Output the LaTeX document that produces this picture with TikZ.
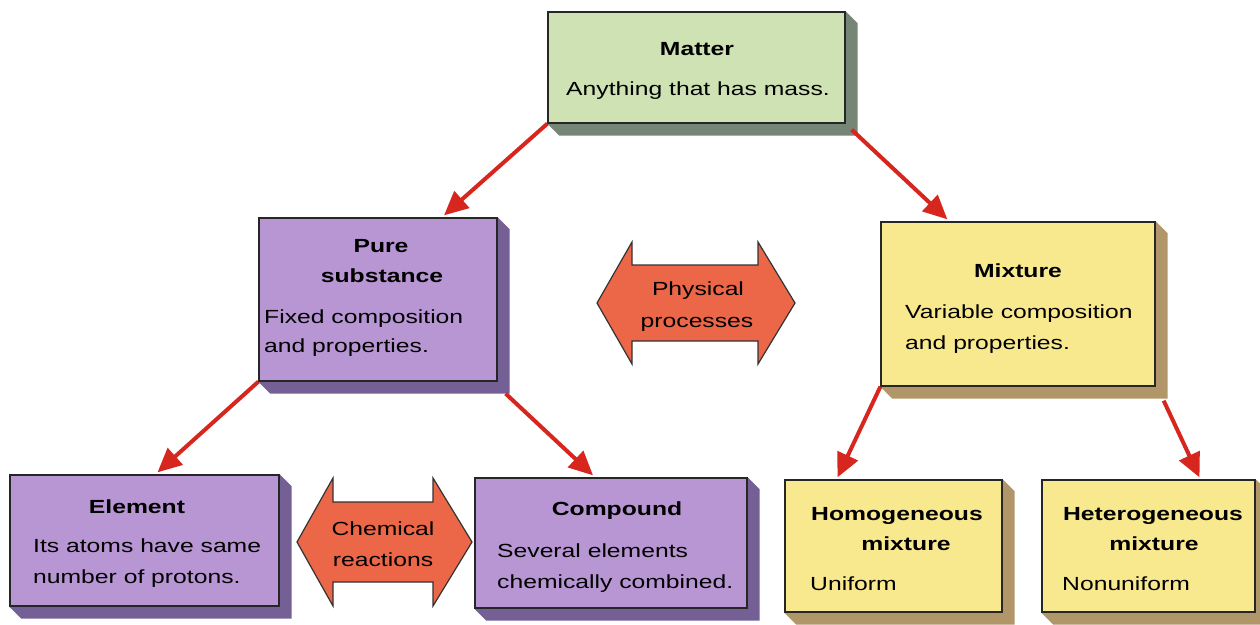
\documentclass[tikz,border=0pt]{standalone}
\usepackage{fontspec}
\setmainfont{Liberation Sans}[FakeStretch=1.3]
\usetikzlibrary{arrows.meta,calc,backgrounds}
\definecolor{greenface}{RGB}{206,226,180}
\definecolor{greenshadow}{RGB}{118,134,118}
\definecolor{purpleface}{RGB}{184,150,212}
\definecolor{purpleshadow}{RGB}{116,96,148}
\definecolor{yellowface}{RGB}{249,233,142}
\definecolor{yellowshadow}{RGB}{176,150,104}
\definecolor{orangefill}{RGB}{236,102,72}
\definecolor{linkred}{RGB}{214,38,30}
\newcommand{\boxshadow}[2]{%
  \fill[#2] (#1.north east) -- ++(12,12) -- ($(#1.south east)+(12,12)$)
    -- ($(#1.south west)+(12,12)$) -- (#1.south west) -- cycle;}
\begin{document}
\begin{tikzpicture}[x=1pt,y=-1pt,
  box/.style={draw=black!85, line width=1.3pt, inner sep=0pt, rectangle},
  txt/.style={inner sep=0pt, anchor=base, font=\fontsize{19}{23}\selectfont},
  ttl/.style={txt, font=\fontsize{19}{23}\selectfont\bfseries},
  lft/.style={txt, anchor=base west},
  link/.style={draw=linkred, line width=4pt, -{Triangle[length=24pt,width=22pt]}},
  dblarrow/.style={fill=orangefill, draw=black!80, line width=1.2pt, line join=miter}]
\clip (0,0) rectangle (1260,624);

% boxes
\node[box, fill=greenface, minimum width=297pt, minimum height=111pt] (matter) at (696.5,67.5) {};
\node[box, fill=purpleface, minimum width=238pt, minimum height=163pt] (pure) at (378,299.5) {};
\node[box, fill=yellowface, minimum width=274pt, minimum height=164pt] (mixture) at (1018,304) {};
\node[box, fill=purpleface, minimum width=269pt, minimum height=131pt] (element) at (144.5,540.5) {};
\node[box, fill=purpleface, minimum width=272pt, minimum height=130pt] (compound) at (611,543) {};
\node[box, fill=yellowface, minimum width=217pt, minimum height=132pt] (homog) at (893.5,546) {};
\node[box, fill=yellowface, minimum width=213pt, minimum height=132pt] (heterog) at (1148.5,546) {};

\begin{scope}[on background layer]
  \clip (0,0) rectangle (1260,624);
  \fill[white] (0,0) rectangle (1260,624);
  \boxshadow{matter}{greenshadow}
  \boxshadow{pure}{purpleshadow}
  \boxshadow{mixture}{yellowshadow}
  \boxshadow{element}{purpleshadow}
  \boxshadow{compound}{purpleshadow}
  \boxshadow{homog}{yellowshadow}
  \boxshadow{heterog}{yellowshadow}
\end{scope}

% texts
\node[ttl] (matterT) at (697,55) {Matter};
\node[txt] (matterB) at (698,95) {Anything that has mass.};

\node[ttl] (pureT1) at (381,252) {Pure};
\node[ttl] (pureT2) at (382,282) {substance};
\node[lft] (pureB1) at (264,323) {Fixed composition};
\node[lft] (pureB2) at (264,352) {and properties.};

\node[ttl] (mixT) at (1018,277) {Mixture};
\node[lft] (mixB1) at (905,318) {Variable composition};
\node[lft] (mixB2) at (905,349) {and properties.};

\node[ttl] (elemT) at (137,513) {Element};
\node[lft] (elemB1) at (33,552) {Its atoms have same};
\node[lft] (elemB2) at (33,583) {number of protons.};

\node[ttl] (compT) at (617,515) {Compound};
\node[lft] (compB1) at (497,557) {Several elements};
\node[lft] (compB2) at (497,588) {chemically combined.};

\node[ttl] (homT1) at (897,520) {Homogeneous};
\node[ttl] (homT2) at (906,550) {mixture};
\node[lft] (homB) at (810,590) {Uniform};

\node[ttl] (hetT1) at (1153,520) {Heterogeneous};
\node[ttl] (hetT2) at (1154,550) {mixture};
\node[lft] (hetB) at (1062,590) {Nonuniform};

% double arrows
\coordinate (phys) at (696,303);
\path[dblarrow] ($(phys)+(-99,0)$) -- ($(phys)+(-64,-61)$) -- ($(phys)+(-64,-38)$)
  -- ($(phys)+(62,-38)$) -- ($(phys)+(62,-61)$) -- ($(phys)+(99,0)$)
  -- ($(phys)+(62,61)$) -- ($(phys)+(62,38)$) -- ($(phys)+(-64,38)$)
  -- ($(phys)+(-64,61)$) -- cycle;
\node[txt] (physT1) at (698,295) {Physical};
\node[txt] (physT2) at (697,327) {processes};

\coordinate (chem) at (384.5,542);
\path[dblarrow] ($(chem)+(-87.5,0)$) -- ($(chem)+(-51.5,-64)$) -- ($(chem)+(-51.5,-40)$)
  -- ($(chem)+(48.5,-40)$) -- ($(chem)+(48.5,-64)$) -- ($(chem)+(87.5,0)$)
  -- ($(chem)+(48.5,64)$) -- ($(chem)+(48.5,40)$) -- ($(chem)+(-51.5,40)$)
  -- ($(chem)+(-51.5,64)$) -- cycle;
\node[txt] (chemT1) at (383,535) {Chemical};
\node[txt] (chemT2) at (383,566) {reactions};

% links
\draw[link] (matter.south west) -- ([xshift=66pt,yshift=2pt]pure.north);
\draw[link] ([xshift=6pt,yshift=-6pt]matter.south east) -- ([xshift=67pt,yshift=2pt]mixture.north west);
\draw[link] (pure.south west) -- ([xshift=13pt,yshift=2pt]element.north);
\draw[link] ([xshift=8pt,yshift=-12pt]pure.south east) -- ([xshift=-18pt,yshift=2pt]compound.north);
\draw[link] (mixture.south west) -- ([xshift=-56pt,yshift=2pt]homog.north);
\draw[link] ([xshift=8pt,yshift=-14pt]mixture.south east) -- ([xshift=51pt,yshift=2pt]heterog.north);
\end{tikzpicture}
\end{document}
